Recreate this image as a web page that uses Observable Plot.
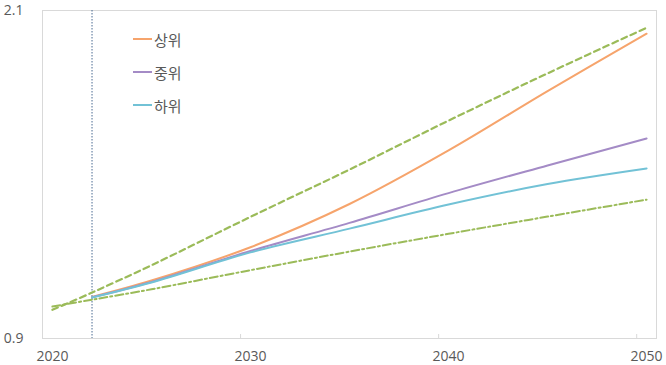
<!DOCTYPE html>
<html>
<head>
<meta charset="utf-8">
<script src="https://cdn.jsdelivr.net/npm/d3@7"></script>
<script src="https://cdn.jsdelivr.net/npm/@observablehq/plot@0.6"></script>
<style>
  body { margin: 0; background: #fff; }
  #wrap { position: relative; width: 666px; height: 365px; font-family: "Open Sans", "Noto Sans CJK KR", sans-serif; }
  .leg { position: absolute; left: 133px; display: flex; align-items: center; font-size: 15px; color: #595959; font-family: "Noto Sans CJK KR", sans-serif; }
  .leg span.sw { display: inline-block; width: 19px; height: 2px; margin-right: 2px; }
</style>
</head>
<body>
<div id="wrap"></div>
<script>
// Series names and data
const seriesNames = ["상위", "중위", "하위"];
const seriesColors = ["#F6A46C", "#A48BC6", "#72C2D6"];
const years = [2022, 2025, 2030, 2035, 2040, 2045, 2050];
const upper = [1.052, 1.112, 1.234, 1.392, 1.588, 1.805, 2.015];
const middle = [1.051, 1.107, 1.220, 1.323, 1.432, 1.533, 1.632];
const lower = [1.050, 1.105, 1.215, 1.302, 1.390, 1.465, 1.522];

const bandYears = [2020, 2022, 2025, 2030, 2035, 2040, 2045, 2050];
const bandHigh = [1.005, 1.068, 1.168, 1.345, 1.518, 1.697, 1.870, 2.037];
const bandLow = [1.017, 1.042, 1.080, 1.150, 1.218, 1.283, 1.346, 1.408];

const baseYear = [2022];
const xTickLabels = [2020, 2030, 2040, 2050];
const xTickMarks = [2029.5, 2039.5, 2049.5];
const yTickLabels = [0.9, 2.1];

const seriesValues = [upper, middle, lower];
const rows = [];
seriesNames.forEach((name, i) => years.forEach((yr, j) => rows.push({series: name, year: yr, value: seriesValues[i][j]})));
const highRows = bandYears.map((yr, j) => ({year: yr, value: bandHigh[j]}));
const lowRows = bandYears.map((yr, j) => ({year: yr, value: bandLow[j]}));

const chart = Plot.plot({
  width: 666,
  height: 365,
  marginLeft: 42,
  marginRight: 10,
  marginTop: 10,
  marginBottom: 27,
  style: {fontFamily: "'Open Sans', 'Noto Sans CJK KR', sans-serif", fontSize: "14px", color: "#595959", background: "#fff"},
  x: {domain: [2019.5, 2050.5]},
  y: {domain: [0.9, 2.1]},
  color: {domain: seriesNames, range: seriesColors},
  marks: [
    Plot.frame({stroke: "#d9d9d9"}),
    Plot.ruleX(xTickMarks, {stroke: "#d9d9d9", insetTop: 324}),
    Plot.axisX({ticks: xTickLabels, tickSize: 0, tickPadding: 13, tickFormat: d => String(d), label: null, fill: "#595959"}),
    Plot.axisY({ticks: yTickLabels, tickSize: 0, tickPadding: 19, tickFormat: d => d.toFixed(1), label: null, fill: "#595959"}),
    Plot.ruleX(baseYear, {stroke: "#4A6A92", strokeWidth: 1, strokeDasharray: "1.5,1.5"}),
    Plot.line(highRows, {x: "year", y: "value", stroke: "#9BBB59", strokeWidth: 2.2, strokeDasharray: "6,4", curve: "catmull-rom"}),
    Plot.line(lowRows, {x: "year", y: "value", stroke: "#9BBB59", strokeWidth: 2, strokeDasharray: "8,3,2,3", curve: "catmull-rom"}),
    Plot.line(rows, {x: "year", y: "value", z: "series", stroke: "series", strokeWidth: 2, curve: "catmull-rom"})
  ]
});
const wrap = document.getElementById("wrap");
wrap.appendChild(chart);

const legendTops = [39, 72, 105];
seriesNames.forEach((name, i) => {
  const d = document.createElement("div");
  d.className = "leg";
  d.style.top = (legendTops[i] - 11) + "px";
  d.style.height = "22px";
  d.innerHTML = `<span class="sw" style="background:${seriesColors[i]}"></span><span>${name}</span>`;
  wrap.appendChild(d);
});
</script>
</body>
</html>
